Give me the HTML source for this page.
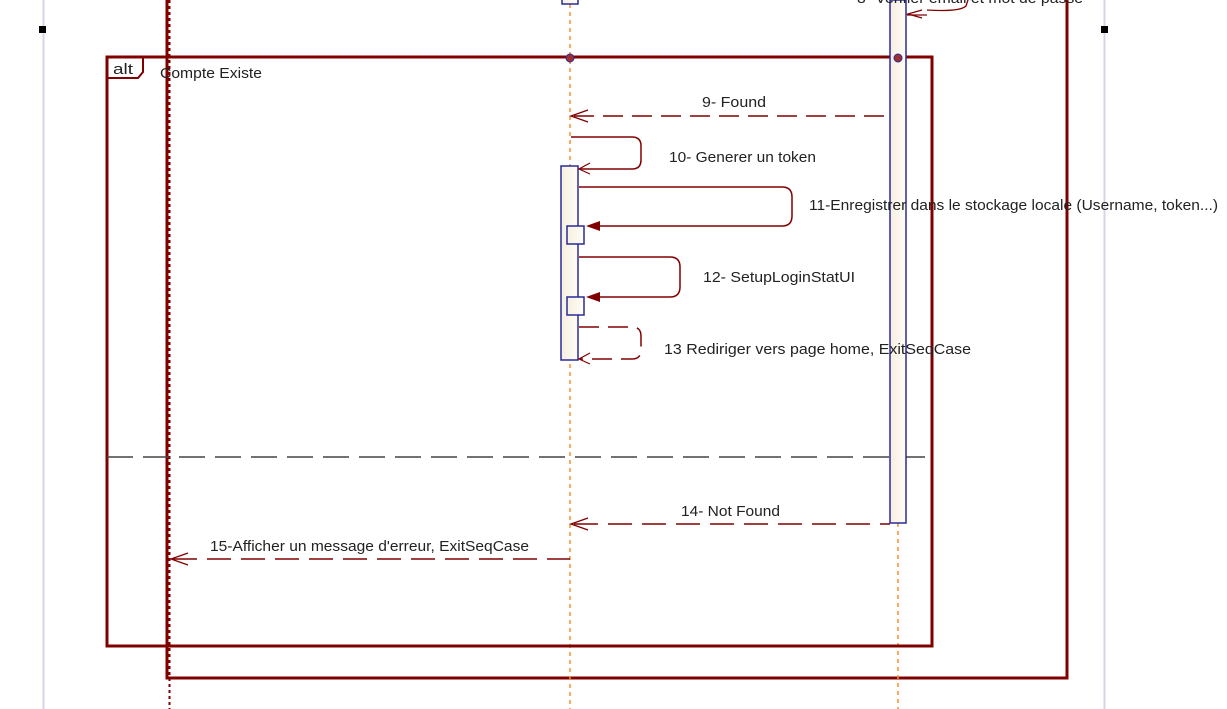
<!DOCTYPE html>
<html><head><style>
html,body{margin:0;padding:0;background:#fff;width:1227px;height:709px;overflow:hidden}
svg text{font-family:"Liberation Sans",sans-serif;font-size:14.5px;fill:#222}
</style></head><body>
<svg width="1227" height="709" viewBox="0 0 1227 709">
<defs>
<linearGradient id="g" x1="0" x2="1"><stop offset="0" stop-color="#f6efdf"/><stop offset="1" stop-color="#fffdf7"/></linearGradient>
</defs>
<line x1="43.5" y1="0" x2="43.5" y2="709" stroke="#d4d4ea" stroke-width="2"/>
<line x1="1104.5" y1="0" x2="1104.5" y2="709" stroke="#d4d4ea" stroke-width="2"/>
<rect x="39" y="26" width="7" height="7" fill="#000"/>
<rect x="1101" y="26" width="7" height="7" fill="#000"/>
<polyline points="167,0 167,678 1067,678 1067,0" fill="none" stroke="#800000" stroke-width="3"/>
<line x1="169.5" y1="0" x2="169.5" y2="709" stroke="#800000" stroke-width="2" stroke-dasharray="3,3"/>
<line x1="570" y1="4" x2="570" y2="709" stroke="#f5902a" stroke-width="1.5" stroke-dasharray="4,4"/>
<line x1="898" y1="523" x2="898" y2="709" stroke="#f5902a" stroke-width="1.5" stroke-dasharray="4,4"/>
<rect x="562" y="-4" width="16" height="8" fill="url(#g)" stroke="#2a2a9a" stroke-width="1.5"/>
<rect x="107" y="57" width="825" height="589" fill="none" stroke="#800000" stroke-width="3"/>
<path d="M107,57 H143 V72 L138,78 H107" fill="none" stroke="#800000" stroke-width="2"/>
<text x="113" y="74" textLength="20" lengthAdjust="spacingAndGlyphs">alt</text>
<text x="160" y="78" textLength="102" lengthAdjust="spacingAndGlyphs">Compte Existe</text>
<line x1="107" y1="457" x2="932" y2="457" stroke="#444" stroke-width="1.5" stroke-dasharray="26,10"/>
<rect x="890" y="0" width="16" height="523" fill="url(#g)" stroke="#2a2a9a" stroke-width="1.5"/>
<circle cx="570" cy="58" r="4" fill="#a03030" stroke="#2a2a9a"/>
<circle cx="898" cy="58" r="4" fill="#a03030" stroke="#2a2a9a"/>
<text x="857" y="3" textLength="226" lengthAdjust="spacingAndGlyphs">8- Verifier email et mot de passe</text>
<path d="M927,10 Q960,12 966,6 L968,0" fill="none" stroke="#800000" stroke-width="1.3"/>
<path d="M922,10 L908,14 L922,18" fill="none" stroke="#800000" stroke-width="1.3"/>
<line x1="907" y1="15" x2="927" y2="15" stroke="#800000" stroke-width="1.3"/>
<line x1="574" y1="116" x2="890" y2="116" stroke="#800000" stroke-width="1.5" stroke-dasharray="20,9"/>
<path d="M588,110 L571,116 L588,122" fill="none" stroke="#800000" stroke-width="1.3"/>
<text x="702" y="107" textLength="64" lengthAdjust="spacingAndGlyphs">9- Found</text>
<rect x="561" y="166" width="17" height="194" fill="url(#g)" stroke="#2a2a9a" stroke-width="1.5"/>
<path d="M571,137 H632 Q641,137 641,146 V160 Q641,169 632,169 H580" fill="none" stroke="#800000" stroke-width="1.5"/>
<path d="M590,163 L579,169 L590,174" fill="none" stroke="#800000" stroke-width="1.2"/>
<text x="669" y="162" textLength="147" lengthAdjust="spacingAndGlyphs">10- Generer un token</text>
<path d="M579,187 H782 Q792,187 792,197 V216 Q792,226 782,226 H600" fill="none" stroke="#800000" stroke-width="1.5"/>
<polygon points="586,226 600,221 600,231" fill="#800000"/>
<rect x="567" y="226" width="17" height="18" fill="url(#g)" stroke="#2a2a9a" stroke-width="1.5"/>
<text x="809" y="210" textLength="409" lengthAdjust="spacingAndGlyphs">11-Enregistrer dans le stockage locale (Username, token...)</text>
<path d="M579,257 H670 Q680,257 680,267 V287 Q680,297 670,297 H600" fill="none" stroke="#800000" stroke-width="1.5"/>
<polygon points="586,297 600,292 600,302" fill="#800000"/>
<rect x="567" y="297" width="17" height="18" fill="url(#g)" stroke="#2a2a9a" stroke-width="1.5"/>
<text x="703" y="282" textLength="152" lengthAdjust="spacingAndGlyphs">12- SetupLoginStatUI</text>
<path d="M579,327 H632 Q641,327 641,336 V350 Q641,359 632,359 H580" fill="none" stroke="#800000" stroke-width="1.5" stroke-dasharray="20,9"/>
<path d="M590,353 L579,359 L590,364" fill="none" stroke="#800000" stroke-width="1.2"/>
<text x="664" y="354" textLength="307" lengthAdjust="spacingAndGlyphs">13  Rediriger vers page home, ExitSeqCase</text>
<line x1="574" y1="524" x2="890" y2="524" stroke="#800000" stroke-width="1.5" stroke-dasharray="24,10"/>
<path d="M588,518 L571,524 L588,530" fill="none" stroke="#800000" stroke-width="1.3"/>
<text x="681" y="516" textLength="99" lengthAdjust="spacingAndGlyphs">14- Not Found</text>
<line x1="173" y1="559" x2="570" y2="559" stroke="#800000" stroke-width="1.5" stroke-dasharray="24,10"/>
<path d="M188,553 L171,559 L188,565" fill="none" stroke="#800000" stroke-width="1.3"/>
<text x="210" y="551" textLength="319" lengthAdjust="spacingAndGlyphs">15-Afficher un message d'erreur, ExitSeqCase</text>
</svg>
</body></html>
